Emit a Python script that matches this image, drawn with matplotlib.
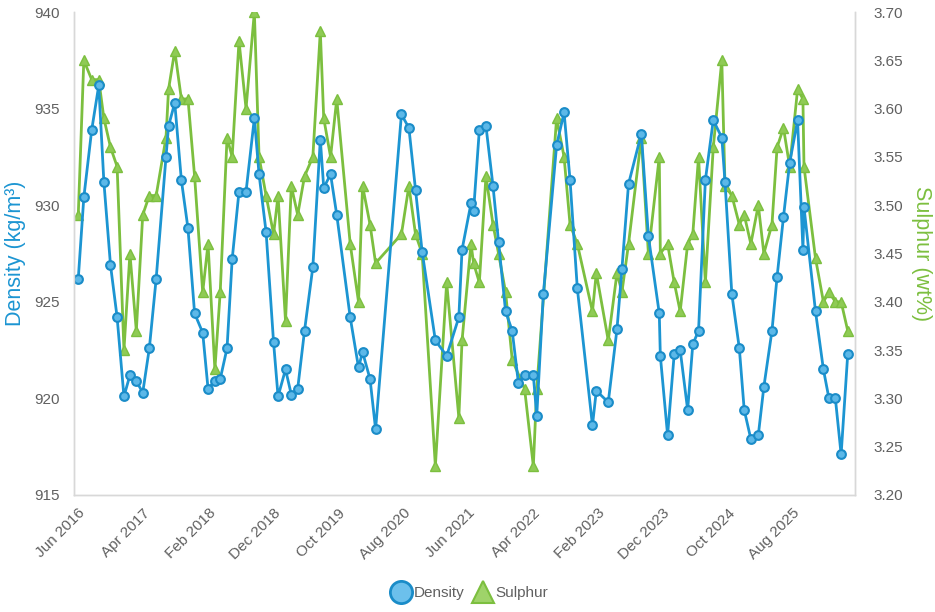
import matplotlib
matplotlib.use("Agg")
import matplotlib.pyplot as plt
import matplotlib.dates as mdates
from matplotlib.lines import Line2D
import pandas as pd
import numpy as np

plt.rcParams['font.family'] = ['Liberation Sans', 'DejaVu Sans']

dates = [
    "2016-06-01", "2016-06-27", "2016-08-03", "2016-09-05", "2016-09-29", "2016-10-30", "2016-11-30",
    "2017-01-01", "2017-01-29", "2017-02-28", "2017-03-30", "2017-04-30", "2017-06-01", "2017-07-17",
    "2017-07-29", "2017-08-27", "2017-09-27", "2017-10-28", "2017-11-28", "2018-01-05", "2018-01-30",
    "2018-03-03", "2018-03-28", "2018-04-29", "2018-05-23", "2018-06-24", "2018-07-27", "2018-09-04",
    "2018-09-26", "2018-10-29", "2018-12-03", "2018-12-24", "2019-01-28", "2019-02-24", "2019-03-26",
    "2019-04-27", "2019-06-05", "2019-07-10", "2019-07-26", "2019-08-27", "2019-09-25", "2019-11-27",
    "2020-01-05", "2020-01-24", "2020-02-28", "2020-03-25", "2020-07-24", "2020-08-28", "2020-09-28",
    "2020-10-29", "2020-12-30", "2021-02-21", "2021-04-19", "2021-05-04", "2021-06-15", "2021-06-27",
    "2021-07-24", "2021-08-24", "2021-09-26", "2021-10-22", "2021-11-24", "2021-12-25", "2022-01-23",
    "2022-02-21", "2022-04-03", "2022-04-19", "2022-05-20", "2022-07-21", "2022-08-25", "2022-09-22",
    "2022-10-26", "2023-01-05", "2023-01-23", "2023-03-20", "2023-04-30", "2023-05-23", "2023-06-23",
    "2023-08-22", "2023-09-24", "2023-11-14", "2023-11-19", "2023-12-23", "2024-01-23", "2024-02-20",
    "2024-03-26", "2024-04-19", "2024-05-16", "2024-06-17", "2024-07-24", "2024-09-02", "2024-09-17",
    "2024-10-19", "2024-11-23", "2024-12-16", "2025-01-16", "2025-02-20", "2025-03-18", "2025-04-25",
    "2025-05-19", "2025-06-18", "2025-07-17", "2025-08-23", "2025-09-17", "2025-09-22", "2025-11-15",
    "2025-12-22", "2026-01-17", "2026-02-16", "2026-03-15", "2026-04-15",
]

density = [
    926.2, 930.4, 933.9, 936.2, 931.2, 926.9, 924.2,
    920.1, 921.2, 920.9, 920.3, 922.6, 926.2, 932.5,
    934.1, 935.3, 931.3, 928.8, 924.4, 923.4, 920.5,
    920.9, 921.0, 922.6, 927.2, 930.7, 930.7, 934.5,
    931.6, 928.6, 922.9, 920.1, 921.5, 920.2, 920.5,
    923.5, 926.8, 933.4, 930.9, 931.6, 929.5, 924.2,
    921.6, 922.4, 921.0, 918.4, 934.7, 934.0, 930.8,
    927.6, 923.0, 922.2, 924.2, 927.7, 930.1, 929.7,
    933.9, 934.1, 931.0, 928.1, 924.5, 923.5, 920.8,
    921.2, 921.2, 919.1, 925.4, 933.1, 934.8, 931.3,
    925.7, 918.6, 920.4, 919.8, 923.6, 926.7, 931.1,
    933.7, 928.4, 924.4, 922.2, 918.1, 922.3, 922.5,
    919.4, 922.8, 923.5, 931.3, 934.4, 933.5, 931.2,
    925.4, 922.6, 919.4, 917.9, 918.1, 920.6, 923.5,
    926.3, 929.4, 932.2, 934.4, 927.7, 929.9, 924.5,
    921.5, 920.0, 920.0, 917.1, 922.3,
]

sulphur = [
    3.49, 3.65, 3.63, 3.63, 3.59, 3.56, 3.54,
    3.35, 3.45, 3.37, 3.49, 3.51, 3.51, 3.57,
    3.62, 3.66, 3.61, 3.61, 3.53, 3.41, 3.46,
    3.33, 3.41, 3.57, 3.55, 3.67, 3.60, 3.70,
    3.55, 3.51, 3.47, 3.51, 3.38, 3.52, 3.49,
    3.53, 3.55, 3.68, 3.59, 3.55, 3.61, 3.46,
    3.40, 3.52, 3.48, 3.44, 3.47, 3.52, 3.47,
    3.45, 3.23, 3.42, 3.28, 3.36, 3.46, 3.44,
    3.42, 3.53, 3.48, 3.45, 3.41, 3.34, None,
    3.31, 3.23, 3.31, None, 3.59, 3.55, 3.48,
    3.46, 3.39, 3.43, 3.36, 3.43, 3.41, 3.46,
    3.57, 3.45, 3.55, 3.45, 3.46, 3.42, 3.39,
    3.46, 3.47, 3.55, 3.42, 3.56, 3.65, 3.52,
    3.51, 3.48, 3.49, 3.46, 3.50, 3.45, 3.48,
    3.56, 3.58, 3.54, 3.62, 3.61, 3.54, 3.445,
    3.40, 3.41, 3.40, 3.40, 3.37,
]

tick_labels = ["Jun 2016", "Apr 2017", "Feb 2018", "Dec 2018", "Oct 2019", "Aug 2020",
               "Jun 2021", "Apr 2022", "Feb 2023", "Dec 2023", "Oct 2024", "Aug 2025"]

d = pd.to_datetime(dates)
s_mask = np.array([v is not None for v in sulphur])
d_s = d[s_mask]
s_vals = [v for v in sulphur if v is not None]

blue_line = "#1c95d2"
blue_face = "#5cb8e8"
blue_edge = "#1a8cc8"
green_line = "#7cbf3f"
green_face = "#8fcb55"
grey_axis = "#d8d8d8"
tick_col = "#606060"

fig = plt.figure(figsize=(9.35, 6.12), dpi=100)
ax = fig.add_axes([74/935, 1-495/612, (855-74)/935, (495-12)/612])
ax2 = ax.twinx()

ax.set_zorder(ax2.get_zorder() + 1)
ax.patch.set_visible(False)

ax2.plot(d_s, s_vals, color=green_line, lw=2.0, marker='^', markersize=6.5,
         markerfacecolor=green_face, markeredgecolor=green_line, markeredgewidth=1.0)
ax.plot(d, density, color=blue_line, lw=2.0, marker='o', markersize=6.3,
        markerfacecolor=blue_face, markeredgecolor=blue_edge, markeredgewidth=1.5)

ax.set_ylim(915, 940)
ax.set_yticks(np.arange(915, 940.1, 5))
ax2.set_ylim(3.20, 3.70)
s_ticks = np.arange(3.20, 3.701, 0.05)
ax2.set_yticks(s_ticks)
ax2.set_yticklabels([f"{v:.2f}" for v in s_ticks])

xmin = pd.Timestamp("2016-05-12")
xmax = pd.Timestamp("2026-05-19")
ax.set_xlim(xmin, xmax)
tick_pos = list(pd.to_datetime(tick_labels, format="%b %Y"))
ax.set_xticks(tick_pos)
ax.set_xticklabels(tick_labels, rotation=45, ha='right', rotation_mode='anchor')

for a in (ax, ax2):
    a.spines['top'].set_visible(False)
    for side in ('left', 'right', 'bottom'):
        a.spines[side].set_color(grey_axis)
        a.spines[side].set_linewidth(1.0)
    a.tick_params(length=0, colors=tick_col, labelsize=11)

ax.tick_params(axis='x', pad=8)
ax.tick_params(axis='y', pad=10)
ax2.tick_params(axis='y', pad=13)

ax.set_ylabel("Density (kg/m³)", color=blue_line, fontsize=15.5, labelpad=6)
ax2.set_ylabel("Sulphur (wt%)", color=green_line, fontsize=15.5, labelpad=6, rotation=270, va='bottom')

handles = [
    Line2D([], [], linestyle='none', marker='o', markersize=16, markerfacecolor="#6cc0ec",
           markeredgecolor=blue_edge, markeredgewidth=2.0),
    Line2D([], [], linestyle='none', marker='^', markersize=16, markerfacecolor="#9fd36a",
           markeredgecolor=green_line, markeredgewidth=1.5),
]
fig.legend(handles, ["Density", "Sulphur"], loc='center', bbox_to_anchor=(470/935, 1-593/612),
           ncol=2, frameon=False, fontsize=11, labelcolor=tick_col, handletextpad=0.2,
           columnspacing=0.6, handlelength=1.2)

fig.savefig("out.png", dpi=100)
